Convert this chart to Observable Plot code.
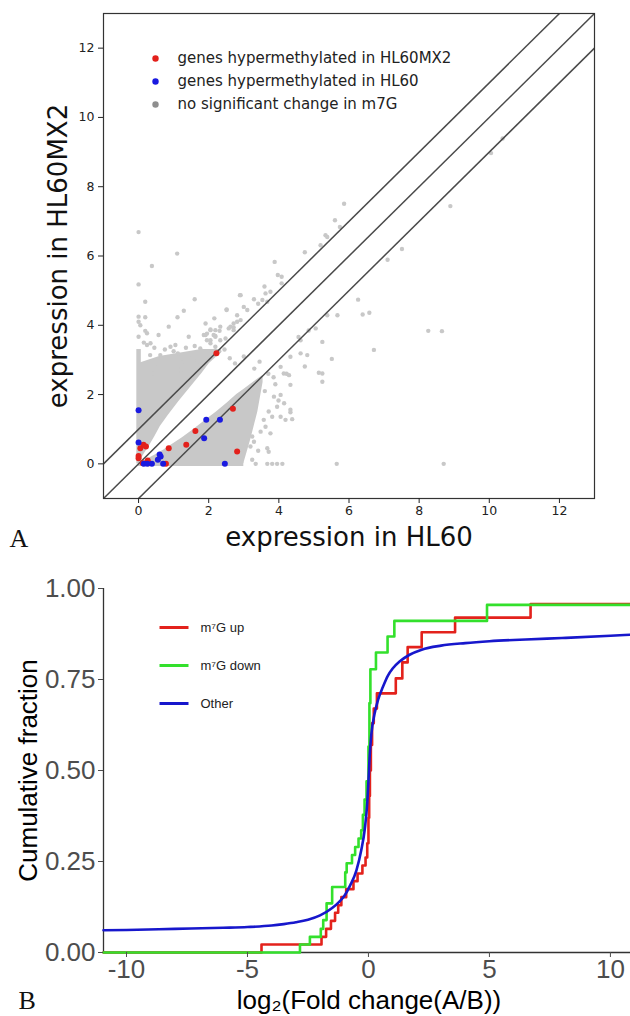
<!DOCTYPE html>
<html><head><meta charset="utf-8">
<script src="https://cdn.jsdelivr.net/npm/d3@7"></script>
<script src="https://cdn.jsdelivr.net/npm/@observablehq/plot@0.6"></script>
<style>
body{margin:0;background:#fff;}
#wrap{width:630px;height:1016px;position:relative;overflow:hidden;background:#fff;}
#wrap svg{display:block;}
</style></head><body><div id="wrap"></div>
<script>
// ---------- Panel A data ----------
const axisDomainA = [-1, 13];
const ticksA = [0, 2, 4, 6, 8, 10, 12];
const diagOffsets = [1, 0, -1];
const grayPoints = [
  [0,6.69],[1.1,6.07],[0.38,5.71],[0,5.18],[0.19,4.68],[1.6,4.75],[1.29,4.42],[1.11,4.23],[0.86,3.96],[0.19,4.23],[0,4.25],[0,4.1],[0.05,4.0],[0.19,3.84],[0,3.67],
  [1.91,4.05],[2.16,4.2],[2.51,4.46],[2.89,4.87],[2.05,3.88],[2.31,3.84],[1.91,3.72],[2.19,3.69],[2.57,3.91],[2.71,3.94],[2.81,4.1],
  [0.24,3.77],[0.24,3.43],[0.34,3.48],[0.57,3.72],[0.91,3.38],[1.12,3.19],[1.29,2.95],[1.05,3.43],[1.43,3.67],[1.52,3.14],[1.76,3.33],[1.95,3.76],[2.05,3.57],[2.19,3.67],[1.67,2.95],[1.81,2.81],[1.19,2.71],[0.86,2.61],[0.52,2.9],[0.62,3.14],[0.33,3.14],[0.24,2.9],[0.43,2.61],
  [3.88,5.83],[3.97,5.45],[4.08,5.4],[4.08,5.21],[3.62,4.92],[3.76,4.97],[2.91,4.87],[3.29,4.75],[3.53,4.73],[3.67,4.68],[3.0,4.53],[3.1,4.44],[2.51,4.44],[2.81,4.29],[2.91,4.15],[2.71,4.05],[2.62,3.96],[2.71,3.86],[2.33,3.96],[2.19,3.86],[2.05,3.86],[2.14,3.72],[1.86,3.72],[1.95,3.57],[2.05,3.48],[2.33,3.57],[2.48,3.62],[2.19,3.38],
  [5.05,3.91],[4.62,3.57],[4.33,3.09],[4.62,3.19],[4.81,3.14],[4.05,2.8],[4.14,2.61],[4.29,2.56],[5.14,2.63],[5.24,2.37],[4.33,2.28],[4.05,1.99],[4.15,1.75],[4.33,1.56],[4.38,1.29],[3.86,1.94],[3.95,1.65],[3.71,1.51],[3.57,1.27],[3.81,1.36],[4.05,1.36],[4.19,1.27],[3.62,1.07],[3.48,0.93],[3.76,0.88],[3.24,0.79],[3.29,0.64],[3.67,0.45],[3.71,0.35],[3.19,0.5],[3.24,0.12],
  [3.34,0],[3.67,0],[3.81,0],[3.95,0],[4.1,0],[5.65,0],[8.7,0],
  [5.86,7.51],[5.6,7.03],[5.74,6.84],[5.33,6.6],[5.38,6.55],[5.19,6.31],[8.89,7.44],[10.05,8.97],[10.38,9.39],[7.51,6.2],[7.1,5.89],[6.26,4.74],[6.39,4.31],[6.58,4.36],[5.38,4.29],[5.67,4.29],[5.24,3.52],[8.26,3.84],[8.65,3.83],[6.71,3.29],[5.51,3.03],[5.24,2.61],
  [4.74,6.11],[4.85,3.85],[4.56,3.66],[4.74,2.81],[4.22,2.6],[3.99,1.83],[4.33,1.49],[3.41,0.38],[3.59,5.12],[3.41,4.62],
  [2.45,3.3],[2.6,3.05],[2.75,2.9],[3.0,3.1],[3.3,2.75],[3.45,2.95],[3.7,2.6],[3.9,2.3],[3.6,2.1],[3.85,2.5],
  [0.75,3.3],[1.0,3.25],[1.35,3.35],[1.6,3.4],[0.45,3.35],[0.15,3.5],[2.3,3.25]
];
const redPoints = [
  [2.22,3.19],[2.69,1.59],[1.62,0.95],[1.36,0.55],[0.86,0.45],[2.81,0.36],[0,0.23],[0,0.16],[0.05,0.45],[0.14,0.55],[0.21,0.5],[0.12,0.02],[0.26,0.1],[0.29,0.02],[0.78,0]
];
const bluePoints = [
  [0,1.55],[0,0.62],[1.93,1.27],[2.32,1.27],[1.87,0.74],[0.6,0.27],[0.63,0.21],[0.55,0.12],[0.15,0],[0.25,0],[0.38,0],[0.7,0],[2.46,0]
];
// dense clouds (outline)
const upperCloudY  = [0,    0.1,  0.3,  0.5,  0.8,  1.08, 1.4,  1.8,  2.32, 2.6,  2.9,  3.1,  3.3];
const upperCloudX1 = [0,    0,    0,    0,    0,    0,    0,    0,    0,    0,    0,    0.6,  1.8];
const upperCloudX2 = [0.02, 0.05, 0.17, 0.3,  0.47, 0.62, 0.85, 1.15, 1.57, 1.8,  2.02, 2.24, 2.35];
const lowerCloudX  = [0.02, 0.1,  0.22, 0.46, 0.72, 0.87, 1.24, 1.58, 1.9,  2.22, 2.52, 2.8, 3.0,  3.2, 3.4, 3.55];
const lowerCloudY1 = [0,    0,    0,    0,    0,    0,    0,    0,    0,    0,    0,    0,   0,    0.7, 1.5, 2.35];
const lowerCloudY2 = [0.02, 0.05, 0.12, 0.25, 0.4,  0.5,  0.75, 1.0,  1.25, 1.5,  1.75, 2.0, 2.15, 2.3, 2.45, 2.55];
const stripVertical = [{x: 0, y1: 0, y2: 3.3}];
const stripHorizontal = [{y: 0, x1: 0, x2: 3.0}];
const legendLabelsA = ["genes hypermethylated in HL60MX2", "genes hypermethylated in HL60", "no significant change in m7G"];

// ---------- Panel B data ----------
const xDomainB = [-10.95, 10.83];
const xTicksB = [-10, -5, 0, 5, 10];
const yTicksB = [0, 0.25, 0.5, 0.75, 1];
const upStepX = [-4.42,-1.94,-1.75,-1.55,-1.38,-1.25,-1.12,-0.92,-0.62,-0.45,-0.25,-0.12,-0.05,0.0,0.03,0.06,0.1,0.15,0.22,0.35,1.13,1.4,1.62,2.2,3.58,6.7];
const upStepY = [0.022,0.043,0.065,0.087,0.109,0.13,0.152,0.174,0.196,0.217,0.239,0.261,0.30,0.37,0.43,0.5,0.57,0.63,0.67,0.712,0.753,0.797,0.839,0.88,0.92,0.957];
const downStepX = [-2.83,-2.42,-1.97,-1.87,-1.73,-1.5,-0.96,-0.9,-0.68,-0.55,-0.41,-0.3,-0.23,-0.16,-0.08,0.0,0.04,0.08,0.31,0.79,1.07,4.9];
const downStepY = [0.022,0.043,0.065,0.089,0.135,0.18,0.22,0.245,0.268,0.29,0.313,0.336,0.378,0.42,0.47,0.566,0.685,0.778,0.824,0.868,0.911,0.955];
const otherX = [-10.95,-10,-8,-6,-5,-4,-3.5,-3,-2.5,-2,-1.5,-1.2,-1,-0.75,-0.5,-0.3,-0.15,-0.05,0,0.05,0.12,0.25,0.4,0.6,0.8,1.0,1.3,1.7,2.2,3,4,5,6.5,8,10,10.83];
const otherY = [0.061,0.062,0.065,0.068,0.07,0.074,0.078,0.083,0.09,0.102,0.122,0.14,0.155,0.185,0.225,0.28,0.34,0.41,0.47,0.54,0.6,0.655,0.695,0.73,0.76,0.78,0.8,0.818,0.832,0.843,0.85,0.855,0.86,0.864,0.87,0.873];
const seriesB = [
  {label: "m\u2077G up", color: "#e3221c"},
  {label: "m\u2077G down", color: "#33e02c"},
  {label: "Other", color: "#1717cc"}
];

// ---------- build ----------
const GRAY = "#c8c8c8";
const RED = "#e3201b", BLUE = "#1a1ae0";
const pts = a => a.map(([x, y]) => ({x, y}));
const upperCloud = upperCloudY.map((y, i) => ({y, x1: upperCloudX1[i], x2: upperCloudX2[i]}));
const lowerCloud = lowerCloudX.map((x, i) => ({x, y1: lowerCloudY1[i], y2: lowerCloudY2[i]}));
const legendColorsA = [RED, BLUE, "#8e8e8e"];

const plotA = Plot.plot({
  width: 630, height: 560,
  marginLeft: 103, marginRight: 36, marginTop: 13, marginBottom: 62,
  x: {domain: axisDomainA},
  y: {domain: axisDomainA},
  style: {fontFamily: "DejaVu Sans", color: "#222", background: "#fff"},
  marks: [
    Plot.areaX(upperCloud, {y: "y", x1: "x1", x2: "x2", fill: GRAY}),
    Plot.areaY(lowerCloud, {x: "x", y1: "y1", y2: "y2", fill: GRAY}),
    Plot.ruleX(stripVertical, {x: "x", y1: "y1", y2: "y2", stroke: GRAY, strokeWidth: 4.5}),
    Plot.ruleY(stripHorizontal, {y: "y", x1: "x1", x2: "x2", stroke: GRAY, strokeWidth: 4.5}),
    Plot.dot(pts(grayPoints), {x: "x", y: "y", r: 2.2, fill: GRAY}),
    Plot.link(diagOffsets, {
      x1: () => axisDomainA[0], y1: o => axisDomainA[0] + o,
      x2: () => axisDomainA[1], y2: o => axisDomainA[1] + o,
      stroke: "#4a4a4a", strokeWidth: 1.5, clip: true
    }),
    Plot.dot(pts(redPoints), {x: "x", y: "y", r: 3, fill: RED}),
    Plot.dot(pts(bluePoints), {x: "x", y: "y", r: 3, fill: BLUE}),
    Plot.frame({stroke: "#333", strokeWidth: 1.2}),
    Plot.axisX({ticks: ticksA, tickSize: 5, tickPadding: 3, fontSize: 12.5, label: null, tickFormat: d => String(d)}),
    Plot.axisY({ticks: ticksA, tickSize: 5, tickPadding: 4, fontSize: 12.5, label: null, tickFormat: d => String(d)}),
    ...legendLabelsA.map((lab, i) => Plot.dot([lab], {frameAnchor: "top-left", dx: 52, dy: 45 + 23 * i, r: 3.2, fill: legendColorsA[i]})),
    ...legendLabelsA.map((lab, i) => Plot.text([lab], {text: d => d, frameAnchor: "top-left", dx: 74, dy: 45 + 23 * i, textAnchor: "start", lineAnchor: "middle", fontSize: 15, fill: "#222"})),
    Plot.text(["expression in HL60"], {text: d => d, frameAnchor: "bottom", dy: 39, textAnchor: "middle", lineAnchor: "middle", fontSize: 26, fill: "#111"}),
    Plot.text(["expression in HL60MX2"], {text: d => d, frameAnchor: "left", dx: -45, rotate: -90, textAnchor: "middle", lineAnchor: "middle", fontSize: 26, fill: "#111"}),
    Plot.text(["A"], {text: d => d, frameAnchor: "bottom-left", dx: -94, dy: 40, textAnchor: "start", lineAnchor: "middle", fontSize: 26, fontFamily: "Liberation Serif", fill: "#111"})
  ]
});

const stepData = (xs, ys) => [{x: xDomainB[0], y: 0}, ...xs.map((x, i) => ({x, y: ys[i]})), {x: xDomainB[1], y: ys[ys.length - 1]}];
const upData = stepData(upStepX, upStepY);
const downData = stepData(downStepX, downStepY);
const otherData = otherX.map((x, i) => ({x, y: otherY[i]}));
const lineSymbol = {draw(ctx) { ctx.moveTo(-14.5, 0); ctx.lineTo(14.5, 0); }};

const plotB = Plot.plot({
  width: 630, height: 456,
  marginLeft: 103, marginRight: 0, marginTop: 28, marginBottom: 64,
  x: {domain: xDomainB},
  y: {domain: [0, 1]},
  style: {fontFamily: "Liberation Sans, Arial, sans-serif", color: "#4d4d4d", background: "#fff", overflow: "visible"},
  marks: [
    Plot.ruleY([0], {stroke: "#333", strokeWidth: 1.3}),
    Plot.ruleX([xDomainB[0]], {y1: 0, y2: 1, stroke: "#333", strokeWidth: 1.3}),
    Plot.line(upData, {x: "x", y: "y", curve: "step-after", stroke: seriesB[0].color, strokeWidth: 2.6}),
    Plot.line(downData, {x: "x", y: "y", curve: "step-after", stroke: seriesB[1].color, strokeWidth: 2.6}),
    Plot.line(otherData, {x: "x", y: "y", curve: "monotone-x", stroke: seriesB[2].color, strokeWidth: 2.6}),
    Plot.axisX({ticks: xTicksB, tickSize: 5, tickPadding: 2, fontSize: 26, label: null, tickFormat: d => String(d)}),
    Plot.axisY({ticks: yTicksB, tickSize: 5, tickPadding: 3, fontSize: 26, label: null, tickFormat: d3.format(".2f")}),
    ...seriesB.map((s, i) => Plot.dot([s], {frameAnchor: "top-left", dx: 70.5, dy: 39 + 38 * i, symbol: lineSymbol, fill: "none", stroke: s.color, strokeWidth: 3})),
    ...seriesB.map((s, i) => Plot.text([s], {text: d => d.label, frameAnchor: "top-left", dx: 97, dy: 39 + 38 * i, textAnchor: "start", lineAnchor: "middle", fontSize: 13, fill: "#222"})),
    Plot.text(["log\u2082(Fold change(A/B))"], {text: d => d, frameAnchor: "bottom", dy: 48, dx: 2, textAnchor: "middle", lineAnchor: "middle", fontSize: 26, fill: "#000"}),
    Plot.text(["Cumulative fraction"], {text: d => d, frameAnchor: "left", dx: -75, rotate: -90, textAnchor: "middle", lineAnchor: "middle", fontSize: 26, fill: "#000"}),
    Plot.text(["B"], {text: d => d, frameAnchor: "bottom-left", dx: -85, dy: 48, textAnchor: "start", lineAnchor: "middle", fontSize: 26, fontFamily: "Liberation Serif", fill: "#111"})
  ]
});

const wrap = document.getElementById("wrap");
wrap.appendChild(plotA);
wrap.appendChild(plotB);
</script></body></html>
